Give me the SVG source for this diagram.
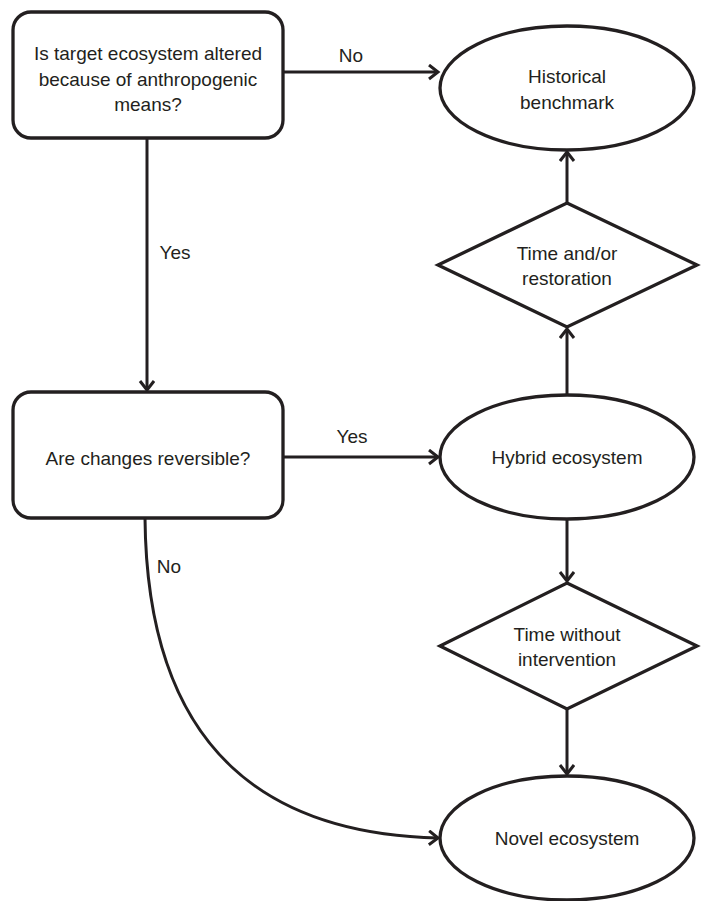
<svg xmlns="http://www.w3.org/2000/svg" width="702" height="901" viewBox="0 0 702 901">
<style>
.s{fill:#fff;stroke:#231f20;stroke-width:3.3}
.c{fill:none;stroke:#231f20;stroke-width:3}
text{font-family:"Liberation Sans",Arial,sans-serif;font-size:19px;fill:#231f20;text-anchor:middle}
</style>
<defs>
<marker id="a" markerUnits="userSpaceOnUse" markerWidth="20" markerHeight="20" refX="12" refY="8" orient="auto">
<path d="M3,1 L12,8 L3,15" fill="none" stroke="#231f20" stroke-width="3"/>
</marker>
</defs>
<rect width="702" height="901" fill="#fff"/>
<g id="connectors">
<path class="c" d="M283,72 H438" marker-end="url(#a)"/>
<text x="351" y="62">No</text>
<path class="c" d="M147,138 V390" marker-end="url(#a)"/>
<text x="175" y="259">Yes</text>
<path class="c" d="M283,457 H438" marker-end="url(#a)"/>
<text x="352" y="443">Yes</text>
<path class="c" d="M567,395 V329" marker-end="url(#a)"/>
<path class="c" d="M567,203 V152" marker-end="url(#a)"/>
<path class="c" d="M567,519 V581" marker-end="url(#a)"/>
<path class="c" d="M567,709 V774" marker-end="url(#a)"/>
<path class="c" d="M145,518 C147,758 275,834 438,838" marker-end="url(#a)"/>
<text x="169" y="573">No</text>
</g>
<g id="q1">
<rect class="s" x="13" y="12" width="270" height="126" rx="18"/>
<text x="148" y="60">Is target ecosystem altered</text>
<text x="148" y="86">because of anthropogenic</text>
<text x="148" y="111">means?</text>
</g>
<g id="historical">
<ellipse class="s" cx="567" cy="88" rx="127" ry="62"/>
<text x="567" y="83">Historical</text>
<text x="567" y="109">benchmark</text>
</g>
<g id="restoration">
<polygon class="s" points="567,203 697,265 567,327 438,265"/>
<text x="567" y="260">Time and/or</text>
<text x="567" y="285">restoration</text>
</g>
<g id="q2">
<rect class="s" x="13" y="392" width="270" height="126" rx="18"/>
<text x="148" y="465">Are changes reversible?</text>
</g>
<g id="hybrid">
<ellipse class="s" cx="567" cy="457" rx="127" ry="62"/>
<text x="567" y="464">Hybrid ecosystem</text>
</g>
<g id="nointervention">
<polygon class="s" points="567,583 697,646 567,709 440,646"/>
<text x="567" y="641">Time without</text>
<text x="567" y="666">intervention</text>
</g>
<g id="novel">
<ellipse class="s" cx="567" cy="838" rx="127" ry="62"/>
<text x="567" y="845">Novel ecosystem</text>
</g>
</svg>
